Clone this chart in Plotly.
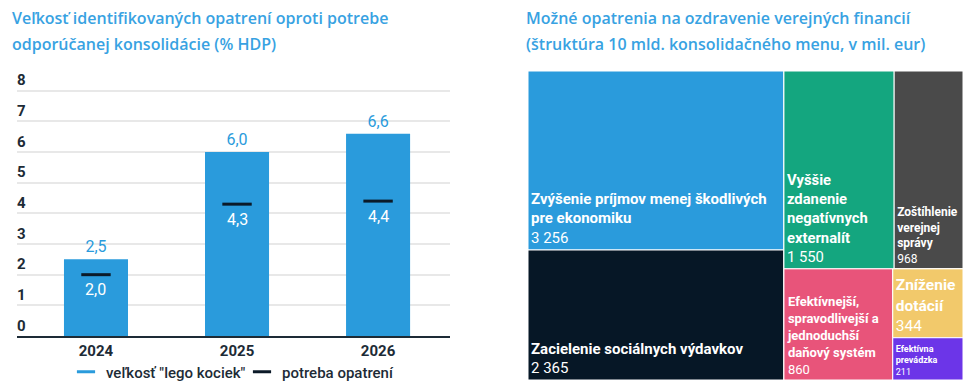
import plotly.graph_objects as go

# ---- data ----
years = ["2024", "2025", "2026"]
lego = [2.5, 6.0, 6.6]
need = [2.0, 4.3, 4.4]
y_ticks = [0, 1, 2, 3, 4, 5, 6, 7, 8]

tm_ids = ["root", "col1", "right", "top", "bottom", "grp",
          "zvysenie", "zacielenie", "vyssie", "zostihlenie", "efektivnejsi", "znizenie", "prevadzka"]
tm_parents = ["", "root", "root", "right", "right", "bottom",
              "col1", "col1", "top", "top", "bottom", "grp", "grp"]
tm_labels = ["", "", "", "", "", "",
             "Zvýšenie príjmov menej škodlivých<br>pre ekonomiku",
             "Zacielenie sociálnych výdavkov",
             "Vyššie<br>zdanenie<br>negatívnych<br>externalít",
             "Zoštíhlenie<br>verejnej<br>správy",
             "Efektívnejší,<br>spravodlivejší a<br>jednoduchší<br>daňový systém",
             "Zníženie<br>dotácií",
             "Efektívna<br>prevádzka"]
tm_values = [0, 0, 0, 0, 0, 0, 3256, 2365, 1550, 968, 860, 344, 211]

tm_colors = ["#ffffff"] * 6 + ["#2a9bdc", "#061726", "#14a67f", "#4a4a4a", "#e8547a", "#f2c96b", "#6c35e8"]
tm_sizes = [10] * 6 + [15, 15, 14.8, 12, 13, 15.5, 9]

def fmt(v):
    return f"{v:,}".replace(",", " ")

def dec(v):
    return f"{v:.1f}".replace(".", ",")

tm_text = [("" if v == 0 else f"<b>{l}</b><br>{fmt(v)}") for l, v in zip(tm_labels, tm_values)]

BLUE = "#2a9bdc"
DARK = "#0b1a28"
TXT = "#1d2b36"
TITLE = "#38a2e2"

fig = go.Figure()

fig.add_trace(go.Bar(
    x=years, y=lego, marker=dict(color=BLUE, line=dict(width=0)),
    width=0.454, texttemplate="%{y:.1f}", textposition="outside",
    textfont=dict(color=BLUE, size=16, family="Roboto"), cliponaxis=False,
    showlegend=False, name='veľkosť "lego kociek"',
))
fig.add_trace(go.Scatter(
    x=years, y=need, mode="markers",
    marker=dict(symbol="line-ew", size=21, line=dict(width=3, color=DARK), color=DARK),
    showlegend=False, cliponaxis=False,
))
# legend entries
fig.add_trace(go.Scatter(
    x=[None], y=[None], mode="markers", name='veľkosť "lego kociek"',
    marker=dict(symbol="line-ew", size=13, line=dict(width=3, color=BLUE), color=BLUE),
))
fig.add_trace(go.Scatter(
    x=[None], y=[None], mode="markers", name="potreba opatrení",
    marker=dict(symbol="line-ew", size=13, line=dict(width=3, color=DARK), color=DARK),
))

fig.add_trace(go.Treemap(
    ids=tm_ids, parents=tm_parents, labels=tm_ids, values=tm_values,
    text=tm_text, textinfo="text", textposition="bottom left",
    branchvalues="remainder", sort=True,
    tiling=dict(packing="slice-dice", pad=0),
    marker=dict(colors=tm_colors, line=dict(width=1, color="white"),
                pad=dict(t=0, l=0, r=0, b=0)),
    textfont=dict(color="white", size=tm_sizes, family="Roboto"),
    pathbar=dict(visible=False),
    domain=dict(x=[528 / 974, 963 / 974], y=[7 / 387, 316 / 387]),
    hoverinfo="skip",
))

title_font = dict(family="Open Sans", size=16, color=TITLE, weight=600)
annotations = [
    dict(text="Veľkosť identifikovaných opatrení oproti potrebe", x=10 / 974, y=1 - 18 / 387,
         xref="paper", yref="paper", xanchor="left", yanchor="middle", showarrow=False, font=title_font),
    dict(text="odporúčanej konsolidácie (% HDP)", x=10 / 974, y=1 - 44 / 387,
         xref="paper", yref="paper", xanchor="left", yanchor="middle", showarrow=False, font=title_font),
    dict(text="Možné opatrenia na ozdravenie verejných financií", x=524 / 974, y=1 - 18 / 387,
         xref="paper", yref="paper", xanchor="left", yanchor="middle", showarrow=False, font=title_font),
    dict(text="(štruktúra 10 mld. konsolidačného menu, v mil. eur)", x=524 / 974, y=1 - 44 / 387,
         xref="paper", yref="paper", xanchor="left", yanchor="middle", showarrow=False, font=title_font),
]
for i, v in enumerate(need):
    annotations.append(dict(text=dec(v), x=i, y=v, xref="x", yref="y", yshift=-15,
                            xanchor="center", yanchor="middle", showarrow=False,
                            font=dict(family="Roboto", size=16, color="white")))

fig.update_layout(
    width=974, height=387,
    margin=dict(l=0, r=0, t=0, b=0, autoexpand=False),
    paper_bgcolor="white", plot_bgcolor="white",
    separators=", ",
    font=dict(family="Roboto", color=TXT),
    xaxis=dict(domain=[17 / 974, 450 / 974], type="category", range=[-0.56, 2.51],
               showgrid=False, showline=True, linecolor=TXT, linewidth=2, automargin=False,
               tickfont=dict(size=15, color=TXT, family="Roboto", weight="bold"),
               ticks="", fixedrange=True),
    yaxis=dict(domain=[51 / 387, (387 - 336 + 8.7 * 30.66) / 387], range=[0, 8.7], tickvals=y_ticks,
               automargin=False, ticklabelposition="inside top", ticklabeloverflow="allow",
               ticklabelstandoff=-3,
               showgrid=True, gridcolor="#e8e8e8", gridwidth=1.5,
               zeroline=False, showline=False,
               tickfont=dict(size=15, color=TXT, family="Roboto", weight="bold"),
               fixedrange=True),
    legend=dict(orientation="h", x=242 / 974, xanchor="center", y=15 / 387, yanchor="middle",
                font=dict(size=15, color=TXT, family="Roboto", weight=500), itemwidth=30,
                entrywidth=131, entrywidthmode="pixels",
                bgcolor="rgba(0,0,0,0)"),
    annotations=annotations,
)

fig.write_html("out.html", config={"displayModeBar": False},
               post_script="document.body.style.margin='0';document.body.style.overflow='hidden';")
